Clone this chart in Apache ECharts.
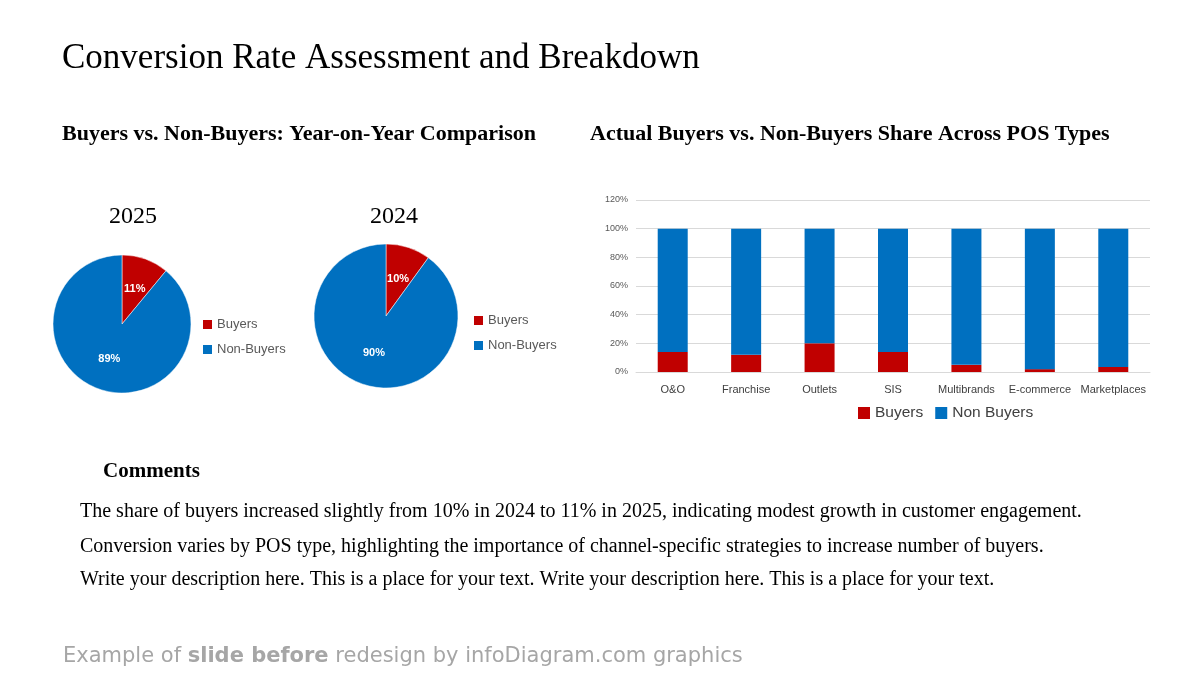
<!DOCTYPE html>
<html><head><meta charset="utf-8">
<script src="https://cdn.jsdelivr.net/npm/echarts@6/dist/echarts.min.js"></script>
<style>html,body{margin:0;padding:0;background:#fff}#c{width:1200px;height:675px}</style>
</head><body><div id="c"></div>
<script>
const pieNames = ['Buyers', 'Non-Buyers'];
const pie2025 = [11, 89];
const pie2024 = [10, 90];
const posCategories = ['O&O', 'Franchise', 'Outlets', 'SIS', 'Multibrands', 'E-commerce', 'Marketplaces'];
const buyersShare = [14, 12, 20, 14, 5, 2, 3.5];
const nonBuyersShare = [86, 88, 80, 86, 95, 98, 96.5];
const RED = '#C00000', BLUE = '#0070C0';
const serif = '"Liberation Serif", "Times New Roman", serif';
const sans = '"Liberation Sans", Arial, sans-serif';
const footFont = '"DejaVu Sans", Lato, sans-serif';

const chart = echarts.init(document.getElementById('c'));
function pieSeries(data, center, radius) {
  return {
    type: 'pie', center: center, radius: radius, startAngle: 90, clockwise: true,
    data: pieNames.map((n, i) => ({ name: n, value: data[i], itemStyle: { color: i === 0 ? RED : BLUE } })),
    label: { show: true, position: 'inside', formatter: '{c}%', color: '#fff', fontWeight: 'bold', fontSize: 11, fontFamily: sans },
    labelLine: { show: false }, emphasis: { disabled: true }, animation: false,
    itemStyle: { borderColor: '#fff', borderWidth: 0.5 }
  };
}
const pieLegendData = pieNames.map((n, i) => ({ name: n, itemStyle: { color: i === 0 ? RED : BLUE, borderWidth: 0 } }));
chart.setOption({
  animation: false,
  graphic: [
    { type: 'text', left: 62, top: 41, style: { text: 'Conversion Rate Assessment and Breakdown', font: '35px ' + serif, fill: '#000' } },
    { type: 'text', left: 62, top: 123, style: { text: 'Buyers vs. Non-Buyers: Year-on-Year Comparison', font: 'bold 22px ' + serif, fill: '#000' } },
    { type: 'text', left: 590, top: 123, style: { text: 'Actual Buyers vs. Non-Buyers Share Across POS Types', font: 'bold 22px ' + serif, fill: '#000' } },
    { type: 'text', x: 133, y: 217, style: { text: '2025', font: '24px ' + serif, fill: '#000', align: 'center', verticalAlign: 'middle' } },
    { type: 'text', x: 394, y: 217, style: { text: '2024', font: '24px ' + serif, fill: '#000', align: 'center', verticalAlign: 'middle' } },
    { type: 'text', left: 103, top: 461, style: { text: 'Comments', font: 'bold 21px ' + serif, fill: '#000' } },
    { type: 'text', left: 80, top: 502, style: { text: 'The share of buyers increased slightly from 10% in 2024 to 11% in 2025, indicating modest growth in customer engagement.', font: '20px ' + serif, fill: '#000' } },
    { type: 'text', left: 80, top: 537, style: { text: 'Conversion varies by POS type, highlighting the importance of channel-specific strategies to increase number of buyers.', font: '20px ' + serif, fill: '#000' } },
    { type: 'text', left: 80, top: 570, style: { text: 'Write your description here. This is a place for your text. Write your description here. This is a place for your text.', font: '20px ' + serif, fill: '#000' } },
    { type: 'text', left: 63, top: 646, style: {
      rich: { n: { font: '21px ' + footFont, fill: '#A6A6A6' }, b: { font: 'bold 21px ' + footFont, fill: '#A6A6A6' } },
      text: '{n|Example of }{b|slide before}{n| redesign by infoDiagram.com graphics}' } }
  ],
  legend: [
    { orient: 'vertical', left: 198, top: 313, itemWidth: 9, itemHeight: 9, itemGap: 12, icon: 'rect', data: pieLegendData,
      textStyle: { fontSize: 13, color: '#595959', fontFamily: sans }, selectedMode: false },
    { orient: 'vertical', left: 469, top: 309, itemWidth: 9, itemHeight: 9, itemGap: 12, icon: 'rect', data: pieLegendData,
      textStyle: { fontSize: 13, color: '#595959', fontFamily: sans }, selectedMode: false },
    { orient: 'horizontal', left: 853, top: 400, itemWidth: 12, itemHeight: 12, itemGap: 12, icon: 'rect',
      data: [{ name: 'Buyers', itemStyle: { color: RED, borderWidth: 0 } }, { name: 'Non Buyers', itemStyle: { color: BLUE, borderWidth: 0 } }],
      textStyle: { fontSize: 15.5, color: '#404040', fontFamily: sans }, selectedMode: false }
  ],
  grid: { left: 636, right: 50, top: 200, bottom: 303, containLabel: false },
  xAxis: { type: 'category', data: posCategories,
    axisLine: { lineStyle: { color: '#D9D9D9' } }, axisTick: { show: false },
    axisLabel: { color: '#404040', fontSize: 11, fontFamily: sans, margin: 12, interval: 0 } },
  yAxis: { type: 'value', min: 0, max: 120, interval: 20,
    axisLabel: { formatter: '{value}%', color: '#595959', fontSize: 9, fontFamily: sans, margin: 8 },
    splitLine: { lineStyle: { color: '#D9D9D9' } }, axisLine: { show: false }, axisTick: { show: false } },
  series: [
    pieSeries(pie2025, [122, 324], 69),
    pieSeries(pie2024, [386, 316], 72),
    { type: 'bar', name: 'Buyers', stack: 's', data: buyersShare, barWidth: 30, itemStyle: { color: RED } },
    { type: 'bar', name: 'Non Buyers', stack: 's', data: nonBuyersShare, barWidth: 30, itemStyle: { color: BLUE } }
  ]
});
</script></body></html>
